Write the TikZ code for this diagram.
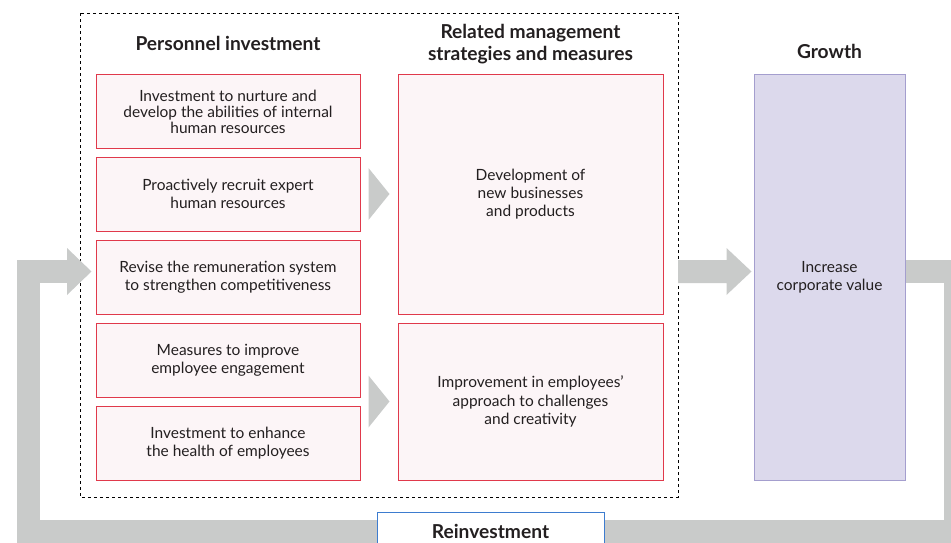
\documentclass[tikz,border=0pt]{standalone}
\usepackage{fontspec}
\setmainfont{Lato}
\usetikzlibrary{calc}
\definecolor{ink}{HTML}{231F20}
\definecolor{flowgray}{HTML}{C9CBCA}
\definecolor{redline}{HTML}{E0394B}
\definecolor{redfill}{HTML}{FCF5F7}
\definecolor{lavfill}{HTML}{DCD9EC}
\definecolor{lavline}{HTML}{A49ECE}
\definecolor{blueline}{HTML}{3D7CCF}
\tikzset{
  every node/.style={text=ink, font=\fontsize{11.6pt}{13.6pt}\selectfont, align=center, inner sep=0pt},
  leftbox/.style={draw=redline, fill=redfill, line width=0.75pt, minimum width=198pt, minimum height=55.5pt},
  midbox/.style={draw=redline, fill=redfill, line width=0.75pt, minimum width=198.75pt},
  growbox/.style={draw=lavline, fill=lavfill, line width=0.75pt, minimum width=113.25pt, minimum height=304.5pt},
  heading/.style={font=\fontsize{14.4pt}{16.8pt}\selectfont\bfseries},
  flow/.style={fill=flowgray, draw=none},
}
\begin{document}
\begin{tikzpicture}[x=0.75pt, y=-0.75pt]
\useasboundingbox (0,0) rectangle (951,543);
\clip (0,0) rectangle (951,543);

% dashed frame around investments and strategies
\draw[line width=0.75pt, dash pattern=on 2.25pt off 2.25pt] (80,13) rectangle (678,497);

% headings
\node[heading] (h1) at (228,43) {Personnel investment};
\node[heading] (h2) at (530.5,44) {Related management\\strategies and measures};
\node[heading] (h3) at (829.5,51) {Growth};

% personnel investment boxes
\node[leftbox, font=\fontsize{11.6pt}{12pt}\selectfont] (l1) at (228,111.5) {Investment to nurture and\\develop the abilities of internal\\human resources};
\node[leftbox] (l2) at (228,194) {Proactively recruit expert\\human resources};
\node[leftbox] (l3) at (228,277) {Revise the remuneration system\\to strengthen competitiveness};
\node[leftbox] (l4) at (228,360) {Measures to improve\\employee engagement};
\node[leftbox] (l5) at (228,443) {Investment to enhance\\the health of employees};

% strategy boxes
\node[midbox, minimum height=180pt] (m1) at (530.5,194) {Development of\\new businesses\\and products};
\node[midbox, minimum height=117.75pt] (m2) at (530.5,401.5) {Improvement in employees'\\approach to challenges\\and creativity};

% growth box
\node[growbox] (g) at (829.5,277) {Increase\\corporate value};

% triangles from investments to strategies
\fill[flowgray] ($(l2.east)+(8,-26)$) -- ($(m1.west)+(-8,0)$) -- ($(l2.east)+(8,26)$) -- cycle;
\fill[flowgray] ($(l5.east|-m2.west)+(8,-26)$) -- ($(m2.west)+(-8,0)$) -- ($(l5.east|-m2.west)+(8,26)$) -- cycle;

% arrow into growth
\coordinate (ga) at (678,271.5);
\coordinate (gt) at (g.west|-ga);
\fill[flowgray] (ga) ++(0,-11.5) -- ($(gt)+(-27,-11.5)$) -- ($(gt)+(-27,-23.5)$) -- ($(gt)+(-2,0)$)
  -- ($(gt)+(-27,23.5)$) -- ($(gt)+(-27,11.5)$) -- ($(ga)+(0,11.5)$) -- cycle;

% reinvestment loop
\coordinate (r0) at (g.east|-ga);
\coordinate (r1) at (955,271.5);
\coordinate (r2) at (955,531);
\coordinate (r3) at (28,531);
\coordinate (r4) at (28,271.5);
\coordinate (r5) at (67,271.5);
\draw[flowgray, line width=17.25pt] (r0) -- (r1) -- (r2) -- (r3) -- (r4) -- (r5);
\fill[flowgray] ($(r5)+(0,-23.5)$) -- ($(l3.west|-r5)+(-4,0)$) -- ($(r5)+(0,23.5)$) -- cycle;

\node[draw=blueline, fill=white, line width=0.75pt, minimum width=170.25pt, minimum height=30pt, anchor=north, heading] (re) at (490.5,512) {};
\node[heading] (ret) at (490.5,531) {Reinvestment};
\end{tikzpicture}
\end{document}
